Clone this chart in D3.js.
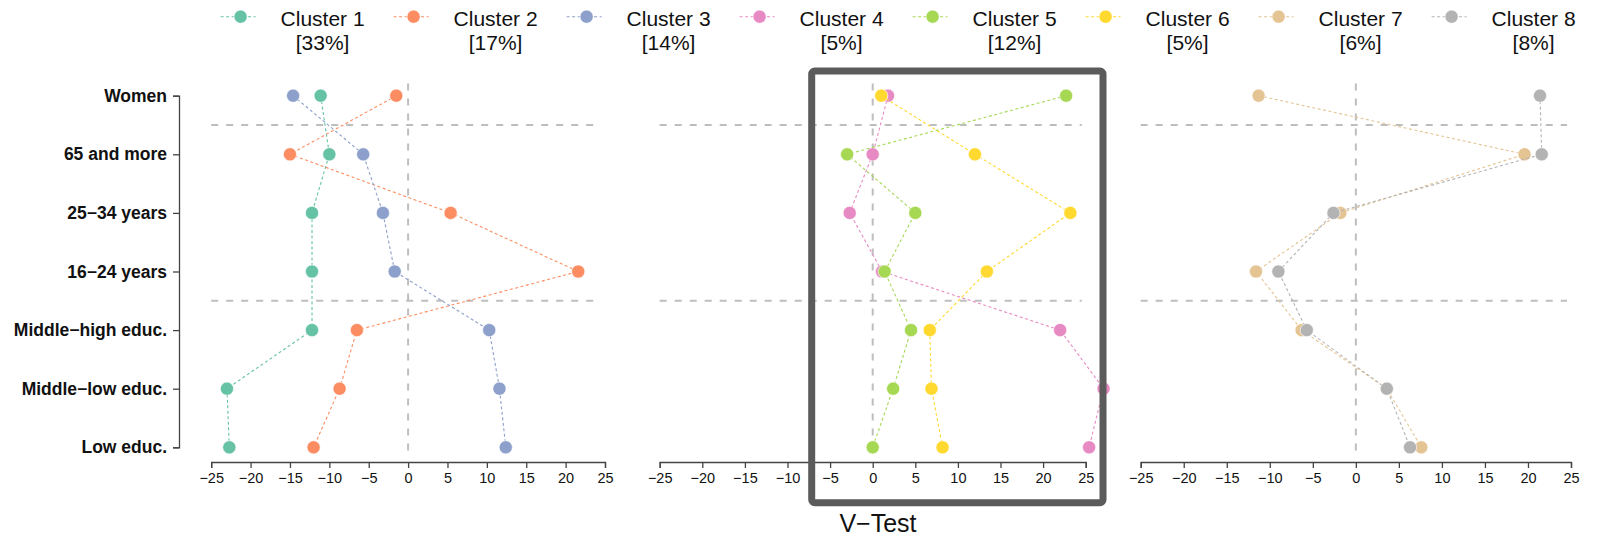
<!DOCTYPE html>
<html>
<head>
<meta charset="utf-8">
<script src="https://cdn.jsdelivr.net/npm/d3@7/dist/d3.min.js"></script>
<style>
  html, body { margin: 0; padding: 0; background: #fff; }
  svg { display: block; font-family: "Liberation Sans", Arial, Helvetica, sans-serif; }
</style>
</head>
<body>
<svg id="chart" width="1598" height="539"></svg>
<script>
// ---- data ----
const categories = ["Women", "65 and more", "25\u221234 years", "16\u221224 years",
  "Middle\u2212high educ.", "Middle\u2212low educ.", "Low educ."];
const clusterNames = ["Cluster 1", "Cluster 2", "Cluster 3", "Cluster 4",
  "Cluster 5", "Cluster 6", "Cluster 7", "Cluster 8"];
const clusterShares = ["[33%]", "[17%]", "[14%]", "[5%]", "[12%]", "[5%]", "[6%]", "[8%]"];
const clusterColors = ["#66C2A5", "#FC8D62", "#8DA0CB", "#E78AC3",
  "#A6D854", "#FFD92F", "#E5C494", "#B3B3B3"];
const cluster1 = [-11.1, -10.0, -12.2, -12.2, -12.2, -23.0, -22.7];
const cluster2 = [-1.5, -15.0, 5.4, 21.6, -6.5, -8.7, -12.0];
const cluster3 = [-14.6, -5.7, -3.2, -1.7, 10.3, 11.6, 12.4];
const cluster4 = [1.8, 0.0, -2.7, 1.1, 22.0, 27.1, 25.4];
const cluster5 = [22.7, -3.0, 5.0, 1.4, 4.5, 2.4, 0.0];
const cluster6 = [1.0, 12.0, 23.2, 13.4, 6.7, 6.9, 8.2];
const cluster7 = [-11.3, 19.6, -1.8, -11.6, -6.3, 3.6, 7.6];
const cluster8 = [21.4, 21.6, -2.6, -9.0, -5.7, 3.6, 6.3];
const clusterValues = [cluster1, cluster2, cluster3, cluster4, cluster5, cluster6, cluster7, cluster8];
const panelClusters = [[0, 1, 2], [3, 4, 5], [6, 7]];
const xTicks = [-25, -20, -15, -10, -5, 0, 5, 10, 15, 20, 25];
const xDomain = [-25, 25];
const groupSeparators = [0.5, 3.5];
const axisTitle = "V\u2212Test";

// ---- layout ----
const svg = d3.select("#chart");
const panelRanges = [[211.2, 605], [659.7, 1085.7], [1140.7, 1571]];
const yScale = d3.scaleLinear().domain([0, categories.length - 1]).range([95.7, 447.3]);
const axisY = 462;
const fmt = d => (d < 0 ? "\u2212" + Math.abs(d) : String(d));
const refColor = "#BEBEBE";

panelRanges.forEach((range, p) => {
  const x = d3.scaleLinear().domain(xDomain).range(range);
  const g = svg.append("g");

  // reference lines
  groupSeparators.forEach(s => {
    g.append("line")
      .attr("x1", x(xDomain[0])).attr("x2", x(xDomain[1]) - 4)
      .attr("y1", yScale(s)).attr("y2", yScale(s))
      .attr("stroke", refColor).attr("stroke-width", 2)
      .attr("stroke-dasharray", "7,8");
  });
  g.append("line")
    .attr("x1", x(0)).attr("x2", x(0))
    .attr("y1", yScale(-0.21)).attr("y2", yScale(6.1))
    .attr("stroke", refColor).attr("stroke-width", 2)
    .attr("stroke-dasharray", "7,8");

  // x axis
  const xAxis = d3.axisBottom(x).tickValues(xTicks).tickFormat(fmt).tickSizeOuter(0).tickSize(6).tickPadding(5);
  const ax = g.append("g").attr("transform", `translate(0,${axisY})`).call(xAxis);
  ax.select(".domain").attr("stroke", "#444").attr("stroke-width", 1.3);
  ax.selectAll(".tick line").attr("stroke", "#444").attr("stroke-width", 1.3);
  ax.selectAll(".tick text").attr("fill", "#111").style("font-size", "14.5px")
    .style("font-family", "'Liberation Sans', Arial, sans-serif");

  // y axis (first panel only)
  if (p === 0) {
    const yAxis = d3.axisLeft(yScale).tickValues(d3.range(categories.length))
      .tickFormat(i => categories[i]).tickSizeOuter(0).tickSize(6).tickPadding(6);
    const ay = g.append("g").attr("transform", "translate(179,0)").call(yAxis);
    ay.select(".domain").attr("stroke", "#444").attr("stroke-width", 1.3);
    ay.selectAll(".tick line").attr("stroke", "#444").attr("stroke-width", 1.3);
    ay.selectAll(".tick text").attr("fill", "#111").style("font-size", "17.5px")
      .style("font-weight", "bold").style("font-family", "'Liberation Sans', Arial, sans-serif");
  }

  // series
  const line = d3.line().x(d => x(d)).y((d, i) => yScale(i));
  panelClusters[p].forEach(c => {
    const vals = clusterValues[c];
    g.append("path").datum(vals)
      .attr("d", line).attr("fill", "none")
      .attr("stroke", clusterColors[c]).attr("stroke-width", 1.1)
      .attr("stroke-dasharray", "3,2.5");
    g.selectAll(null).data(vals).enter().append("circle")
      .attr("cx", d => x(d)).attr("cy", (d, i) => yScale(i)).attr("r", 6.6)
      .attr("fill", clusterColors[c])
      .attr("stroke", "#fff").attr("stroke-width", 0.8).attr("stroke-opacity", 0.8);
  });
});

// highlight box around middle panel
svg.append("rect")
  .attr("x", 811.7).attr("y", 71).attr("width", 1103 - 811.7).attr("height", 502.7 - 71)
  .attr("rx", 3).attr("fill", "none").attr("stroke", "#5B5B5B").attr("stroke-width", 7);

// axis title
svg.append("text").attr("x", 878).attr("y", 531.5).attr("text-anchor", "middle")
  .style("font-size", "25px").attr("fill", "#111").text(axisTitle);

// legend
const legend = svg.append("g");
clusterNames.forEach((name, i) => {
  const x0 = 240.6 + i * 173;
  const gi = legend.append("g");
  gi.append("line").attr("x1", x0 - 20).attr("x2", x0 + 15).attr("y1", 16.7).attr("y2", 16.7)
    .attr("stroke", clusterColors[i]).attr("stroke-width", 1.1).attr("stroke-dasharray", "3,2.5");
  gi.append("circle").attr("cx", x0).attr("cy", 16.7).attr("r", 6.6).attr("fill", clusterColors[i])
    .attr("stroke", "#fff").attr("stroke-width", 0.8).attr("stroke-opacity", 0.8);
  gi.append("text").attr("x", x0 + 82).attr("y", 26).attr("text-anchor", "middle")
    .style("font-size", "21px").attr("fill", "#111").text(name);
  gi.append("text").attr("x", x0 + 82).attr("y", 50).attr("text-anchor", "middle")
    .style("font-size", "21px").attr("fill", "#111").text(clusterShares[i]);
});
</script>
</body>
</html>
